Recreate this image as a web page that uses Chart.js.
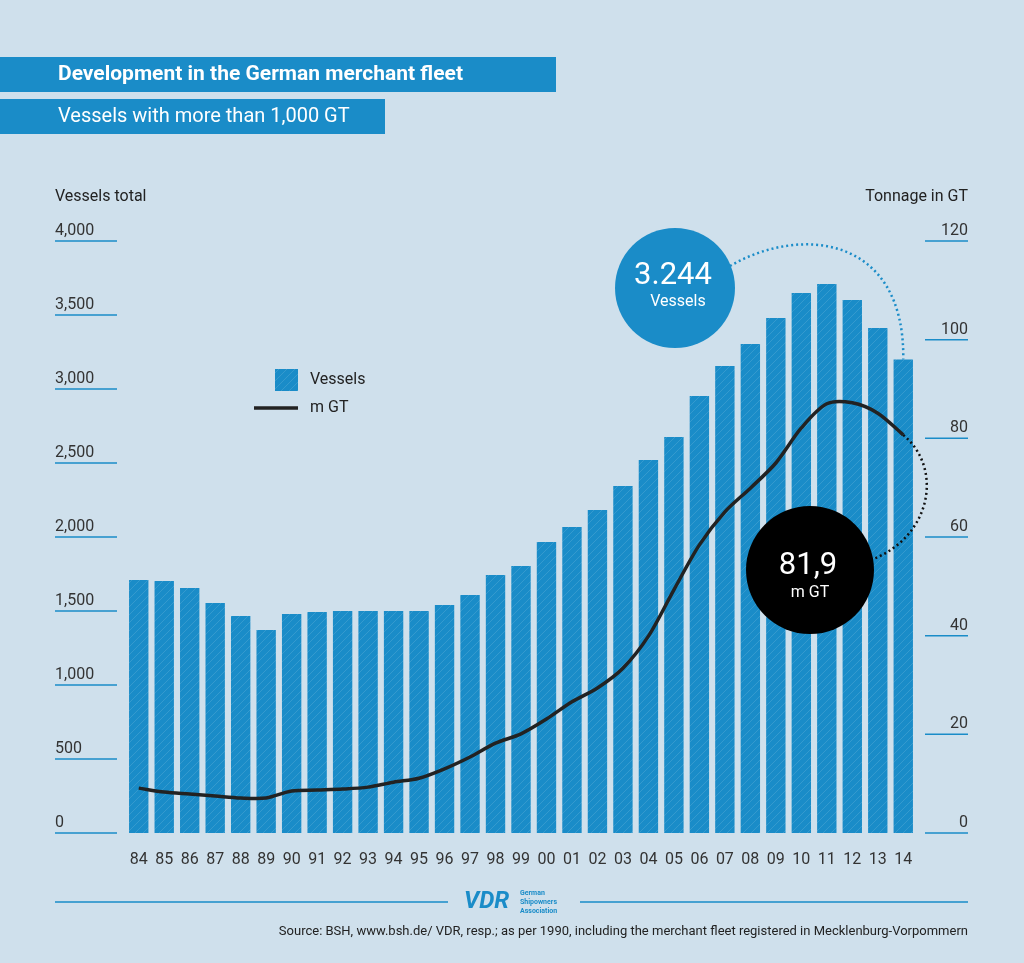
<!DOCTYPE html>
<html><head><meta charset="utf-8">
<style>html,body{margin:0;padding:0;background:#cfe0ec}canvas{display:block}</style>
<script src="https://cdn.jsdelivr.net/npm/chart.js"></script>
</head><body>
<canvas id="chart" width="1024" height="963"></canvas>
<script>
// data
const years = ['84','85','86','87','88','89','90','91','92','93','94','95','96','97','98','99','00','01','02','03','04','05','06','07','08','09','10','11','12','13','14'];
const vessels = [1709,1703,1655,1554,1466,1372,1480,1493,1500,1500,1500,1500,1540,1608,1743,1804,1966,2068,2182,2345,2520,2676,2953,3155,3304,3480,3649,3709,3601,3412,3200];
const tonnage = [9.1,8.3,7.9,7.5,7.1,7.1,8.5,8.7,8.9,9.3,10.3,11.1,13.0,15.4,18.2,20.1,23.1,26.6,29.4,33.4,39.9,49.3,58.4,65.1,69.9,75.0,82.1,87.0,87.2,85.1,80.7];
const leftTicks = [0,500,1000,1500,2000,2500,3000,3500,4000];
const rightTicks = [0,20,40,60,80,100,120];

const BLUE = '#1a8cc8';
const FONT = 'Roboto, "DejaVu Sans", sans-serif';

function hatch() {
  const c = document.createElement('canvas');
  c.width = 8; c.height = 8;
  const g = c.getContext('2d');
  g.fillStyle = BLUE; g.fillRect(0, 0, 8, 8);
  g.strokeStyle = 'rgba(255,255,255,0.12)'; g.lineWidth = 1;
  g.beginPath(); g.moveTo(0, 8); g.lineTo(8, 0); g.stroke();
  return g.createPattern(c, 'repeat');
}

const fmt = v => v.toLocaleString('en-US');

const decor = {
  id: 'decor',
  beforeDraw(chart) {
    const ctx = chart.ctx;
    ctx.save();
    ctx.fillStyle = '#cfe0ec';
    ctx.fillRect(0, 0, chart.width, chart.height);
    // title boxes
    ctx.fillStyle = BLUE;
    ctx.fillRect(0, 57, 556, 35);
    ctx.fillRect(0, 99, 385, 35);
    ctx.fillStyle = '#fff';
    ctx.textBaseline = 'middle';
    ctx.font = 'bold 21px ' + FONT;
    ctx.fillText('Development in the German merchant fleet', 58, 75);
    ctx.font = '20px ' + FONT;
    ctx.fillText('Vessels with more than 1,000 GT', 58, 117);
    // axis titles
    ctx.fillStyle = '#222';
    ctx.font = '16px ' + FONT;
    ctx.fillText('Vessels total', 55, 197);
    ctx.textAlign = 'right';
    ctx.fillText('Tonnage in GT', 968, 197);
    // tick labels with underline
    const y = chart.scales.y, y2 = chart.scales.y2;
    ctx.font = '16px ' + FONT;
    ctx.strokeStyle = BLUE; ctx.lineWidth = 1.5;
    ctx.textAlign = 'left';
    ctx.textBaseline = 'alphabetic';
    leftTicks.forEach(t => {
      const py = y.getPixelForValue(t);
      ctx.fillStyle = '#333';
      ctx.fillText(fmt(t), 55, py - 6);
      ctx.beginPath(); ctx.moveTo(55, py); ctx.lineTo(117, py); ctx.stroke();
    });
    ctx.textAlign = 'right';
    rightTicks.forEach(t => {
      const py = y2.getPixelForValue(t);
      ctx.fillText(String(t), 968, py - 6);
      ctx.beginPath(); ctx.moveTo(925, py); ctx.lineTo(968, py); ctx.stroke();
    });
    // x labels
    const x = chart.scales.x;
    ctx.textAlign = 'center';
    ctx.font = '16px ' + FONT;
    years.forEach((yr, i) => ctx.fillText(yr, x.getPixelForValue(i), 864));
    // legend
    ctx.fillStyle = hatch();
    ctx.fillRect(275, 369, 23, 22);
    ctx.strokeStyle = '#222'; ctx.lineWidth = 3.5;
    ctx.beginPath(); ctx.moveTo(254, 408); ctx.lineTo(298, 408); ctx.stroke();
    ctx.fillStyle = '#222';
    ctx.textAlign = 'left'; ctx.textBaseline = 'middle';
    ctx.fillText('Vessels', 310, 380);
    ctx.fillText('m GT', 310, 408);
    // footer
    ctx.strokeStyle = BLUE; ctx.lineWidth = 1.5;
    ctx.beginPath(); ctx.moveTo(55, 902); ctx.lineTo(448, 902); ctx.moveTo(580, 902); ctx.lineTo(968, 902); ctx.stroke();
    ctx.fillStyle = BLUE;
    ctx.font = 'bold italic 24px ' + FONT;
    ctx.fillText('VDR', 464, 902);
    ctx.font = 'bold 7px ' + FONT;
    ctx.fillText('German', 520, 893);
    ctx.fillText('Shipowners', 520, 902);
    ctx.fillText('Association', 520, 911);
    ctx.fillStyle = '#222';
    ctx.font = '13px ' + FONT;
    ctx.textAlign = 'right';
    ctx.fillText('Source: BSH, www.bsh.de/ VDR, resp.; as per 1990, including the merchant fleet registered in Mecklenburg-Vorpommern', 968, 932);
    ctx.restore();
  },
  afterDraw(chart) {
    const ctx = chart.ctx;
    const x = chart.scales.x, y = chart.scales.y, y2 = chart.scales.y2;
    const last = years.length - 1;
    const bx = x.getPixelForValue(last), by = y.getPixelForValue(vessels[last]);
    const lx = bx, ly = y2.getPixelForValue(tonnage[last]);
    ctx.save();
    // dotted connectors
    ctx.setLineDash([2, 3]); ctx.lineWidth = 2.5;
    ctx.strokeStyle = BLUE;
    ctx.beginPath(); ctx.moveTo(730, 266);
    ctx.bezierCurveTo(800, 225, 905, 235, bx, by); ctx.stroke();
    ctx.strokeStyle = '#111';
    ctx.beginPath(); ctx.moveTo(lx, ly);
    ctx.bezierCurveTo(945, 470, 930, 540, 868, 561); ctx.stroke();
    ctx.setLineDash([]);
    // bubbles
    ctx.fillStyle = BLUE;
    ctx.beginPath(); ctx.arc(675, 288, 60, 0, Math.PI * 2); ctx.fill();
    ctx.fillStyle = '#000';
    ctx.beginPath(); ctx.arc(810, 570, 64, 0, Math.PI * 2); ctx.fill();
    ctx.fillStyle = '#fff';
    ctx.textAlign = 'center'; ctx.textBaseline = 'middle';
    ctx.font = '31px ' + FONT;
    ctx.fillText('3.244', 673, 276);
    ctx.fillText('81,9', 808, 566);
    ctx.font = '16px ' + FONT;
    ctx.fillText('Vessels', 678, 302);
    ctx.fillText('m GT', 810, 593);
    ctx.restore();
  }
};

new Chart(document.getElementById('chart'), {
  data: {
    labels: years,
    datasets: [
      { type: 'line', label: 'm GT', data: tonnage, yAxisID: 'y2', borderColor: '#222', borderWidth: 3.5,
        pointRadius: 0, tension: 0.3, order: 0 },
      { type: 'bar', label: 'Vessels', data: vessels, yAxisID: 'y', backgroundColor: hatch(),
        barPercentage: 0.76, categoryPercentage: 1, order: 1 }
    ]
  },
  options: {
    responsive: false,
    animation: false,
    layout: { padding: { left: 126, right: 108, top: 241, bottom: 130 } },
    plugins: { legend: { display: false }, tooltip: { enabled: false } },
    scales: {
      x: { display: false, offset: true },
      y: { display: false, min: 0, max: 4000 },
      y2: { display: false, min: 0, max: 120, position: 'right' }
    }
  },
  plugins: [decor]
});
</script>
</body></html>
